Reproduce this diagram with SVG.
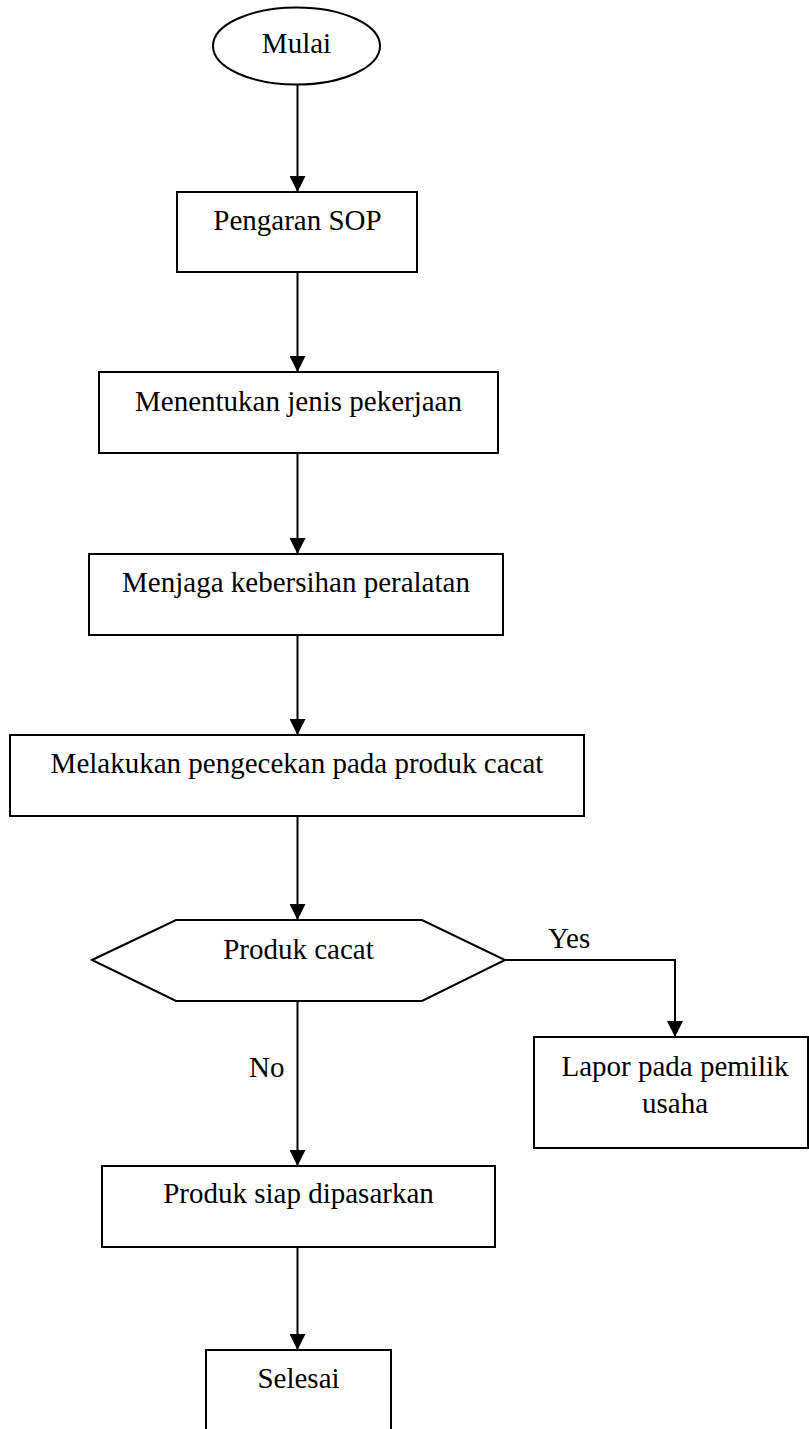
<svg xmlns="http://www.w3.org/2000/svg" width="809" height="1429" viewBox="0 0 809 1429">
<style>
.shape{fill:#fff;stroke:#000;stroke-width:2}
.conn{fill:none;stroke:#000;stroke-width:2}
.t{font-family:"Liberation Serif","Times New Roman",serif;font-size:29px;fill:#000;text-anchor:middle}
.l{font-family:"Liberation Serif","Times New Roman",serif;font-size:29px;fill:#000}
</style>
<defs>
<marker id="arr" viewBox="0 0 16 16" markerWidth="16" markerHeight="16" refX="16" refY="8" orient="auto" markerUnits="userSpaceOnUse">
<path d="M0,0 L16,8 L0,16 Z" fill="#000"/>
</marker>
</defs>
<rect width="809" height="1429" fill="#fff"/>
<g id="connectors">
<line class="conn" x1="297.5" y1="84" x2="297.5" y2="192" marker-end="url(#arr)"/>
<line class="conn" x1="297.5" y1="272" x2="297.5" y2="372" marker-end="url(#arr)"/>
<line class="conn" x1="297.5" y1="453" x2="297.5" y2="554" marker-end="url(#arr)"/>
<line class="conn" x1="297.5" y1="635" x2="297.5" y2="735" marker-end="url(#arr)"/>
<line class="conn" x1="297.5" y1="816" x2="297.5" y2="920" marker-end="url(#arr)"/>
<path class="conn" d="M505,960 H675 V1037" marker-end="url(#arr)"/>
<line class="conn" x1="297.5" y1="1001" x2="297.5" y2="1166" marker-end="url(#arr)"/>
<line class="conn" x1="297.5" y1="1247" x2="297.5" y2="1350" marker-end="url(#arr)"/>
<text class="l" x="548" y="948">Yes</text>
<text class="l" x="249" y="1077">No</text>
</g>
<g id="mulai">
<ellipse class="shape" cx="296.5" cy="46" rx="83.5" ry="38.5"/>
<text class="t" x="296.5" y="53">Mulai</text>
</g>
<g id="pengaran-sop">
<rect class="shape" x="177" y="192" width="240" height="80"/>
<text class="t" x="297.5" y="230">Pengaran SOP</text>
</g>
<g id="menentukan">
<rect class="shape" x="99" y="372" width="399" height="81"/>
<text class="t" x="298.5" y="411">Menentukan jenis pekerjaan</text>
</g>
<g id="menjaga">
<rect class="shape" x="89" y="554" width="414" height="81"/>
<text class="t" x="296" y="592">Menjaga kebersihan peralatan</text>
</g>
<g id="melakukan">
<rect class="shape" x="10" y="735" width="574" height="81"/>
<text class="t" x="297" y="773">Melakukan pengecekan pada produk cacat</text>
</g>
<g id="produk-cacat">
<polygon class="shape" points="92,960 176,920 422,920 505,960 422,1001 176,1001"/>
<text class="t" x="298.5" y="959">Produk cacat</text>
</g>
<g id="lapor">
<rect class="shape" x="534" y="1037" width="274" height="111"/>
<text class="t" x="675" y="1076">Lapor pada pemilik</text>
<text class="t" x="675" y="1113">usaha</text>
</g>
<g id="produk-siap">
<rect class="shape" x="102" y="1166" width="393" height="81"/>
<text class="t" x="298.5" y="1203">Produk siap dipasarkan</text>
</g>
<g id="selesai">
<rect class="shape" x="206" y="1350" width="185" height="81"/>
<text class="t" x="298.5" y="1388">Selesai</text>
</g>
</svg>
